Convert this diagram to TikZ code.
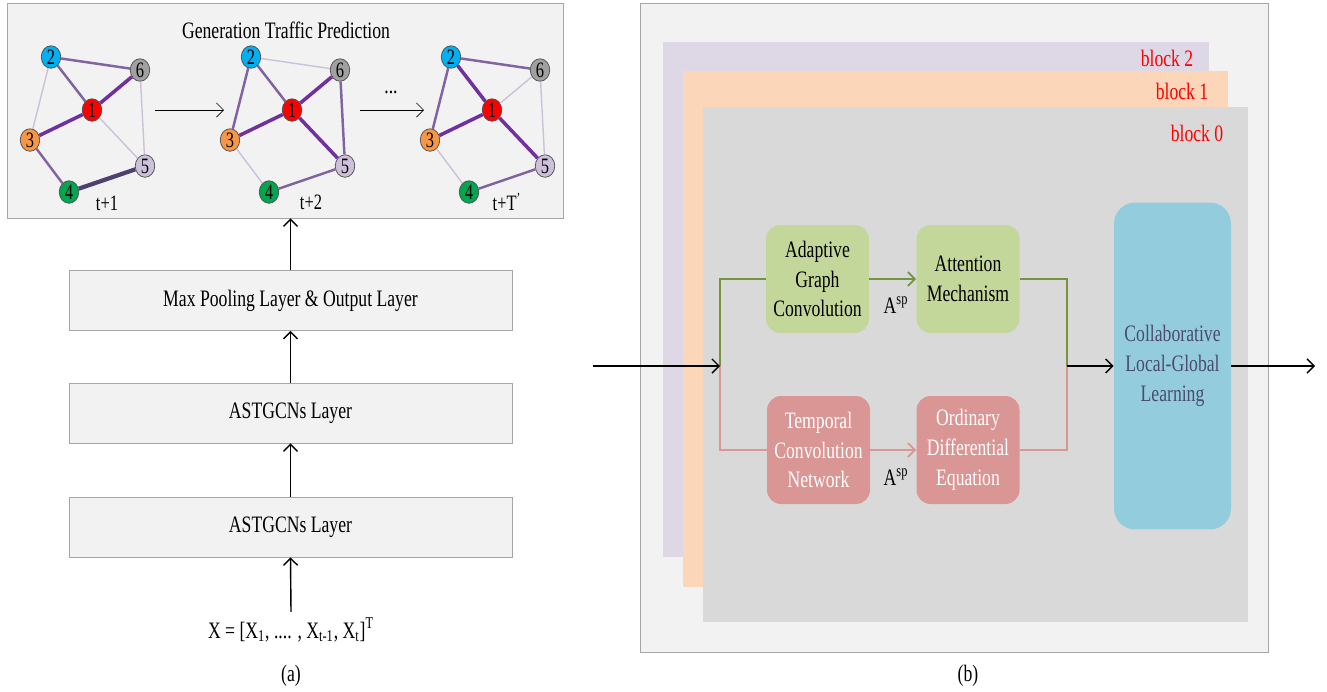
\documentclass[tikz,border=0pt]{standalone}
\usepackage{fontspec}
\setmainfont[FakeStretch=0.75]{Liberation Serif}
\usetikzlibrary{shapes.geometric,positioning,arrows.meta}

\definecolor{framegray}{HTML}{A6A6A6}
\definecolor{boxgray}{HTML}{F2F2F2}
\definecolor{blkpurple}{HTML}{DDD7E6}
\definecolor{blkpeach}{HTML}{FBD6B8}
\definecolor{blkgray}{HTML}{D9D9D9}
\definecolor{agcgreen}{HTML}{C4D79B}
\definecolor{linegreen}{HTML}{77933C}
\definecolor{tcnred}{HTML}{DA9694}
\definecolor{clgblue}{HTML}{93CDDD}
\definecolor{clgtext}{HTML}{4B4B6E}
\definecolor{ebright}{HTML}{7030A0}
\definecolor{emid}{HTML}{8064A2}
\definecolor{elight}{HTML}{CCC1DA}
\definecolor{edark}{HTML}{504070}
\definecolor{vred}{HTML}{FF0000}
\definecolor{vcyan}{HTML}{00B0F0}
\definecolor{vorange}{HTML}{F79646}
\definecolor{vgreen}{HTML}{00A650}
\definecolor{vlav}{HTML}{CCC0DA}
\definecolor{vgray}{HTML}{A0A0A0}

\tikzset{
  layer/.style={draw=framegray, fill=boxgray, minimum width=8.86cm, minimum height=1.2cm, inner sep=0pt},
  vtx/.style={ellipse, draw=black!70, thin, minimum width=0.39cm, minimum height=0.45cm, inner sep=0pt, font=\fontsize{12.5}{12}\selectfont},
  wthin/.style={draw=elight, line width=0.8pt},
  wmid/.style={draw=emid, line width=1.4pt},
  wthick/.style={draw=ebright, line width=2pt},
  wdark/.style={draw=edark, line width=2.4pt},
  gbox/.style={rounded corners=8pt, fill=agcgreen, minimum width=2.06cm, minimum height=2.16cm, align=center, inner sep=1pt},
  rbox/.style={gbox, fill=tcnred, text=white},
  gline/.style={draw=linegreen, line width=1pt},
  rline/.style={draw=tcnred, line width=1pt},
  blklabel/.style={text=red}
}

\begin{document}
\begin{tikzpicture}[x=0.02cm, y=-0.02cm, >={Straight Barb[length=4pt,width=8pt]},
    every node/.style={font=\fontsize{13.4}{17}\selectfont}]
  \useasboundingbox (0,0) rectangle (1327,691);

  % ---- (a) ----
  \node (predbox) [draw=framegray, fill=boxgray, minimum width=11.12cm, minimum height=4.3cm, inner sep=0pt] at (285,110.5) {};
  \node (title) at (286,30) {Generation Traffic Prediction};

  % three snapshots of the graph
  \foreach \g/\dx in {1/0,2/200,3/400}{
    \foreach \n/\x/\y/\c in {1/92/110/vred, 2/51/57/vcyan, 3/30/140/vorange, 4/69/192/vgreen, 5/145/166/vlav, 6/140/70/vgray}
      \node (g\g-\n) [vtx, fill=\c] at (\x+\dx,\y) {\n};
  }
  \foreach \a/\b/\s in {2/6/wmid, 2/1/wmid, 1/6/wthick, 1/3/wthick, 2/3/wthin, 1/5/wthin, 6/5/wthin, 3/4/wmid, 4/5/wdark}
    \draw[\s] (g1-\a) -- (g1-\b);
  \foreach \a/\b/\s in {2/6/wthin, 2/1/wmid, 2/3/wmid, 1/6/wthick, 1/3/wthick, 1/5/wthick, 6/5/wmid, 3/4/wthin, 4/5/wmid}
    \draw[\s] (g2-\a) -- (g2-\b);
  \foreach \a/\b/\s in {2/6/wmid, 2/1/wthick, 2/3/wmid, 1/6/wthin, 1/3/wthick, 1/5/wthick, 6/5/wthin, 3/4/wthin, 4/5/wmid}
    \draw[\s] (g3-\a) -- (g3-\b);

  \node (t1) at (107,203) {\fontsize{12.5}{12}\selectfont t+1};
  \node (t2) at (311,202) {\fontsize{12.5}{12}\selectfont t+2};
  \node (t3) at (507,202) {\fontsize{12.5}{12}\selectfont t+T\textsuperscript{’}};

  \coordinate (s1) at (155,110);
  \coordinate (e1) at (224,110);
  \coordinate (s2) at (360,110);
  \coordinate (e2) at (424,110);
  \draw[->] (s1) -- (e1);
  \draw[->] (s2) -- (e2);
  \node (dots) at (391,92) {...};

  % stacked layers
  \node (pool) [layer] at (290.5,300.5) {Max Pooling Layer \& Output Layer};
  \node (ast2) [layer] at (290.5,413) {ASTGCNs Layer};
  \node (ast1) [layer] at (290.5,527) {ASTGCNs Layer};
  \node (inp) at (291,630) {X = [X\textsubscript{1}, .... , X\textsubscript{t-1}, X\textsubscript{t}]\textsuperscript{T}};

  \draw[->, thick] (inp.north) -- (ast1.south);
  \draw[->, thick] (ast1.north) -- (ast2.south);
  \draw[->, thick] (ast2.north) -- (pool.south);
  \draw[->, thick] (pool.north) -- (pool.north |- predbox.south);

  \node (capa) at (291,676) {(a)};

  % ---- (b) ----
  \node (frame) [draw=framegray, fill=boxgray, minimum width=12.56cm, minimum height=12.98cm, inner sep=0pt] at (954,327.5) {};
  \fill[blkpurple] (663,42) rectangle (1209,557);
  \fill[blkpeach] (683,71) rectangle (1228,587);
  \fill[blkgray] (703,107) rectangle (1248,622);
  \node (lb2) [blklabel] at (1167,58) {block 2};
  \node (lb1) [blklabel] at (1182,91) {block 1};
  \node (lb0) [blklabel] at (1197,133) {block 0};

  \node (agc) [gbox] at (817.5,279) {Adaptive\\Graph\\Convolution};
  \node (att) [gbox] at (968,279) {Attention\\Mechanism};
  \node (tcn) [rbox] at (818.5,450) {Temporal\\Convolution\\Network};
  \node (ode) [rbox] at (968,450) {Ordinary\\Differential\\Equation};
  \node (clg) [gbox, fill=clgblue, text=clgtext, rounded corners=12pt, minimum width=2.34cm, minimum height=6.54cm] at (1172.5,366) {Collaborative\\Local-Global\\Learning};

  \coordinate (src) at (593,366);
  \coordinate (split) at (720,366);
  \coordinate (merge) at (1067,366);
  \coordinate (sink) at (1315,366);

  \draw[gline] (split) |- (agc.west);
  \draw[gline, ->] (agc) -- (att);
  \draw[gline] (att.east) -| (merge);
  \draw[rline] (split) |- (tcn.west);
  \draw[rline, ->] (tcn) -- (ode);
  \draw[rline] (ode.east) -| (merge);

  \draw[->, thick] (src) -- (split);
  \draw[->, thick] (merge) -- (clg);
  \draw[->, thick] (clg) -- (sink);

  \node (asp1) at (896,305) {A\textsuperscript{sp}};
  \node (asp2) at (896,477) {A\textsuperscript{sp}};

  \node (capb) at (968,676) {(b)};
\end{tikzpicture}
\end{document}
